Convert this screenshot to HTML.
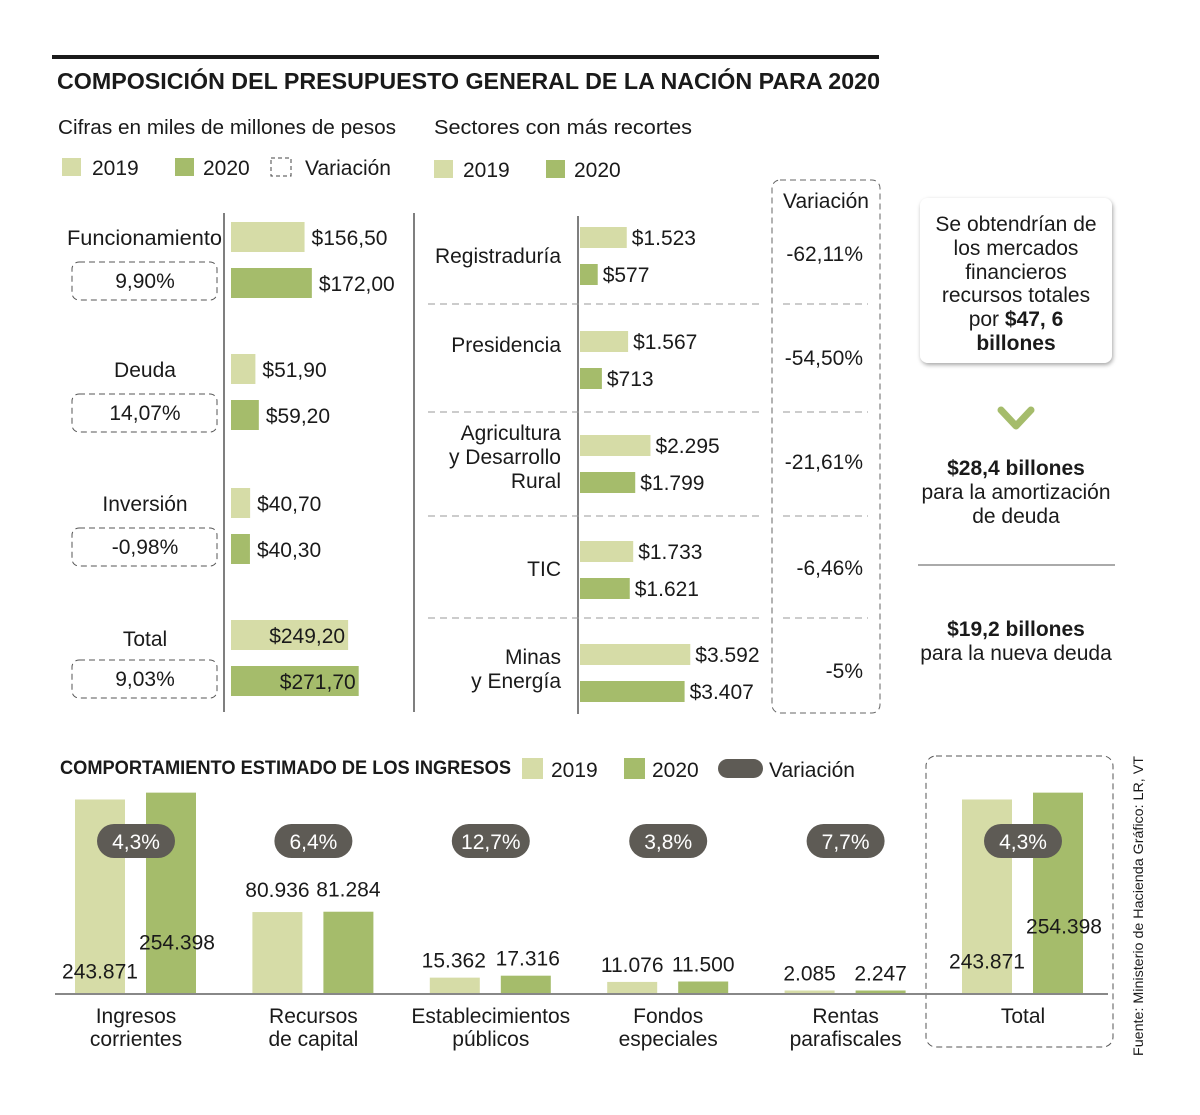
<!DOCTYPE html>
<html><head><meta charset="utf-8"><style>
html,body{margin:0;padding:0;background:#fff;}
svg{display:block;font-family:"Liberation Sans",sans-serif;}
text{fill:#1a1a1a;}
</style></head><body>
<svg id="s" width="1200" height="1115" viewBox="0 0 1200 1115">
<defs><filter id="sh" x="-10%" y="-10%" width="130%" height="130%"><feDropShadow dx="1" dy="2" stdDeviation="2" flood-color="#000" flood-opacity="0.35"/></filter></defs>
<rect x="52" y="55" width="827" height="4" fill="#1a1a1a"/>
<text x="57" y="89" font-size="23" font-weight="bold" textLength="823" lengthAdjust="spacingAndGlyphs">COMPOSICIÓN DEL PRESUPUESTO GENERAL DE LA NACIÓN PARA 2020</text>
<text x="58" y="134" font-size="20" fill="#333" textLength="338" lengthAdjust="spacingAndGlyphs">Cifras en miles de millones de pesos</text>
<text x="434" y="134" font-size="20" textLength="258" lengthAdjust="spacingAndGlyphs">Sectores con más recortes</text>
<g>
<rect x="62" y="158" width="19" height="18" fill="#d6dca7"/><text x="92" y="175" font-size="21" fill="#333">2019</text>
<rect x="175" y="158" width="19" height="18" fill="#a5bc6b"/><text x="203" y="175" font-size="21" fill="#333">2020</text>
<rect x="271" y="158" width="20" height="18" fill="none" stroke="#444" stroke-dasharray="4,3"/><text x="305" y="175" font-size="21" fill="#333">Variación</text>
</g>
<g>
<rect x="434" y="160" width="19" height="18" fill="#d6dca7"/><text x="463" y="177" font-size="21" fill="#333">2019</text>
<rect x="546" y="160" width="19" height="18" fill="#a5bc6b"/><text x="574" y="177" font-size="21" fill="#333">2020</text>
</g>
<line x1="224" y1="213" x2="224" y2="712" stroke="#555" stroke-width="1.5"/>
<line x1="414" y1="213" x2="414" y2="712" stroke="#555" stroke-width="1.5"/>
<line x1="578" y1="216" x2="578" y2="714" stroke="#555" stroke-width="1.5"/>
<rect x="772" y="180" width="108" height="533" rx="8" fill="none" stroke="#666" stroke-dasharray="6,4"/>
<text x="826" y="208" font-size="21" text-anchor="middle" fill="#333">Variación</text>
<g id="left"></g><g id="sect"></g><g id="bottom"></g>
<g>
<rect x="920" y="198" width="192" height="165" rx="8" fill="#fff" filter="url(#sh)"/>
<g font-size="21" text-anchor="middle" fill="#333">
<text x="1016" y="231">Se obtendrían de</text>
<text x="1016" y="255">los mercados</text>
<text x="1016" y="279">financieros</text>
<text x="1016" y="302">recursos totales</text>
<text x="1016" y="326">por <tspan font-weight="bold">$47, 6</tspan></text>
<text x="1016" y="350" font-weight="bold">billones</text>
<path d="M1001 410 L1016 426 L1031 410" fill="none" stroke="#a5bc6b" stroke-width="7" stroke-linecap="round" stroke-linejoin="round"/>
<text x="1016" y="475" font-weight="bold">$28,4 billones</text>
<text x="1016" y="499">para la amortización</text>
<text x="1016" y="523">de deuda</text>
<line x1="918" y1="565" x2="1115" y2="565" stroke="#777" stroke-width="1.2"/>
<text x="1016" y="636" font-weight="bold">$19,2 billones</text>
<text x="1016" y="660">para la nueva deuda</text>
</g></g>
<text x="60" y="774" font-size="19" font-weight="bold" textLength="451" lengthAdjust="spacingAndGlyphs">COMPORTAMIENTO ESTIMADO DE LOS INGRESOS</text>
<g>
<rect x="522" y="758" width="21" height="21" fill="#d6dca7"/><text x="551" y="777" font-size="21" fill="#333">2019</text>
<rect x="624" y="758" width="21" height="21" fill="#a5bc6b"/><text x="652" y="777" font-size="21" fill="#333">2020</text>
<rect x="718" y="759" width="45" height="19" rx="9.5" fill="#5e5b55"/><text x="769" y="777" font-size="21" fill="#333">Variación</text>
</g>
<rect x="926" y="756" width="187" height="291" rx="10" fill="none" stroke="#555" stroke-dasharray="6,4"/>
<line x1="55" y1="994" x2="1108" y2="994" stroke="#888" stroke-width="2"/>
<text transform="translate(1143,1056) rotate(-90)" font-size="14" fill="#222" textLength="300" lengthAdjust="spacingAndGlyphs">Fuente: Ministerio de Hacienda  Gráfico: LR, VT</text>
</svg>
<script>
const NS="http://www.w3.org/2000/svg";
const L="#d6dca7",D="#a5bc6b";
// Left chart data
const budgetCats=["Funcionamiento","Deuda","Inversión","Total"];
const budget2019=[156.50,51.90,40.70,249.20];
const budget2020=[172.00,59.20,40.30,271.70];
const budgetVar=["9,90%","14,07%","-0,98%","9,03%"];
// Sector data
const sectorLines=[["Registraduría"],["Presidencia"],["Agricultura","y Desarrollo","Rural"],["TIC"],["Minas","y Energía"]];
const sector2019=[1523,1567,2295,1733,3592];
const sector2020=[577,713,1799,1621,3407];
const sectorVar=["-62,11%","-54,50%","-21,61%","-6,46%","-5%"];
// Income data
const incomeCats=[["Ingresos","corrientes"],["Recursos","de capital"],["Establecimientos","públicos"],["Fondos","especiales"],["Rentas","parafiscales"],["Total"]];
const income2019=[243871,80936,15362,11076,2085,243871];
const income2020=[254398,81284,17316,11500,2247,254398];
const incomeVar=["4,3%","6,4%","12,7%","3,8%","7,7%","4,3%"];

function el(tag,attrs,parent,txt){const e=document.createElementNS(NS,tag);for(const k in attrs)e.setAttribute(k,attrs[k]);if(txt!=null)e.textContent=txt;parent.appendChild(e);return e;}
const fmt=v=>"$"+v.toFixed(2).replace(".",",");
const fmtK=v=>String(v).replace(/\B(?=(\d{3})+(?!\d))/g,".");

// Left chart
const gl=document.getElementById("left");
const xL=v=>v*0.47, rowY=[222,354,488,620];
budgetCats.forEach((c,i)=>{
  const y=rowY[i];
  const at={x:i==0?222:145,y:y+23,"font-size":21,"text-anchor":i==0?"end":"middle",fill:"#333"};
  if(i==0){at.textLength=155;at.lengthAdjust="spacingAndGlyphs";}
  if(i==3) at.y=y+26;
  const t=el("text",at,gl,c);
  
  
  const bx=el("rect",{x:72,y:y+40,width:145,height:38,rx:7,fill:"none",stroke:"#555","stroke-dasharray":"6,4"},gl);
  
  
  el("text",{x:145,y:y+66,"font-size":21,"text-anchor":"middle"},gl,budgetVar[i]);
  [[budget2019[i],L,0],[budget2020[i],D,46]].forEach(([v,col,dy],j)=>{
    const w=xL(v);
    const r=el("rect",{x:231,y:y+dy,width:w,height:30,fill:col},gl);
    
    
    if(i==3) el("text",{x:231+w-3,y:y+dy+23,"font-size":21,"text-anchor":"end"},gl,fmt(v));
    else el("text",{x:231+w+7,y:y+dy+23,"font-size":21},gl,fmt(v));
  });
});

// Sector chart
const gs=document.getElementById("sect");
const xS=v=>v*0.0307, sY=[227,331,435,541,644];
const labelBase=[263,352,440,576,664];
sectorLines.forEach((lines,i)=>{
  const y=sY[i];
  lines.forEach((ln,k)=>{
    const t=el("text",{x:561,y:labelBase[i]+k*24,"font-size":21,"text-anchor":"end",fill:"#333"},gs,ln);
    
    
  });
  [[sector2019[i],L,0],[sector2020[i],D,37]].forEach(([v,col,dy])=>{
    const w=xS(v);
    const r=el("rect",{x:580,y:y+dy,width:w,height:21,fill:col},gs);
    
    
    el("text",{x:580+w+5,y:y+dy+18,"font-size":21},gs,"$"+fmtK(v));
  });
  el("text",{x:863,y:y+34,"font-size":21,"text-anchor":"end"},gs,sectorVar[i]);
  if(i>0){
    const sy=[304,412,516,618][i-1];
    el("line",{x1:428,y1:sy,x2:760,y2:sy,stroke:"#999","stroke-dasharray":"7,5"},gs);
    el("line",{x1:783,y1:sy,x2:868,y2:sy,stroke:"#999","stroke-dasharray":"7,5"},gs);
  }
});

// Income chart
const gb=document.getElementById("bottom");
const base=993;
const hB=v=>v<100000?v*0.001:100+(v-100000)*0.00065;
const cx=i=>136+i*177.4;
incomeCats.forEach((lines,i)=>{
  const c=cx(i);
  [[income2019[i],L,-61],[income2020[i],D,10]].forEach(([v,col,dx],j)=>{
    const h=Math.max(hB(v),2.5);
    const r=el("rect",{x:c+dx,y:base-h,width:50,height:h,fill:col},gb);
    
    
    let ty, tx=c+dx+25;
    if(h>150){
      ty = base - h + (j==0?179:157) - (i==5?(j==0?10:16):0);
      tx = c+dx+25+(j==0?0:6);
    }
    else ty = base-h-(i==1?15:10);
    if(i==2) tx=c+dx+25+(j==0?-1:2);
    el("text",{x:tx,y:ty,"font-size":21,"text-anchor":"middle"},gb,fmtK(v));
  });
  const p=el("rect",{x:c-39,y:824,width:78,height:34,rx:17,fill:"#5e5b55"},gb);
  
  
  el("text",{x:c,y:849,"font-size":21,"text-anchor":"middle",fill:"#fff",style:"fill:#fff"},gb,incomeVar[i]);
  lines.forEach((ln,k)=>el("text",{x:c,y:1023+k*23,"font-size":21,"text-anchor":"middle",fill:"#333"},gb,ln));
});
</script>
</body></html>
